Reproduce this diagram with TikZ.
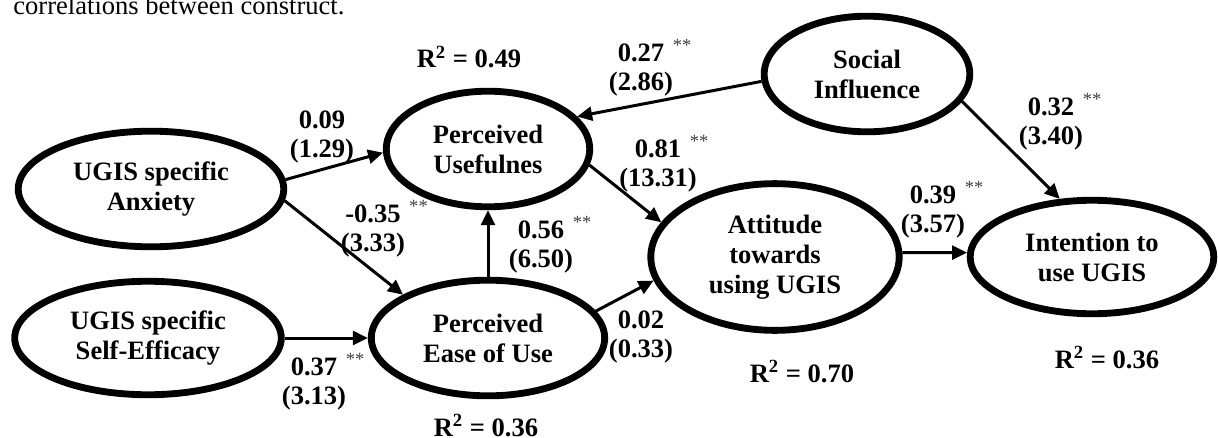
\documentclass[tikz,border=0pt]{standalone}
\usepackage{fontspec}
\setmainfont{Liberation Serif}
\usetikzlibrary{arrows.meta,shapes.geometric}

\newcommand\sigmark{\rlap{\smash{\hspace{4pt}\textsuperscript{\mdseries\color{black!75}**}}}}

\begin{document}
\begin{tikzpicture}[x=0.467pt,y=-0.467pt]
\tikzset{
  latent/.style={ellipse,draw=black,line width=3.2pt,align=center,inner sep=0pt,font=\bfseries\fontsize{12.4}{14}\selectfont},
  path/.style={draw=black,line width=1.4pt,-{Triangle[length=7pt,width=6.5pt]}},
  coef/.style={align=center,inner sep=0pt,font=\bfseries\fontsize{12.4}{14}\selectfont},
  rsq/.style={anchor=base,inner sep=0pt,font=\bfseries\fontsize{12.4}{14}\selectfont}
}
\useasboundingbox (0,0) rectangle (1218,438);
\node[anchor=base west,inner sep=0pt,font=\fontsize{12.4}{14}\selectfont] (caption) at (13,14) {correlations between construct.};
% constructs
\node[latent,minimum width=124pt,minimum height=54pt] (n_anx) at (151,189) {UGIS specific\\Anxiety};
\node[latent,minimum width=124.5pt,minimum height=53pt] (n_se) at (148,338) {UGIS specific\\Self-Efficacy};
\node[latent,minimum width=95pt,minimum height=54pt] (n_pu) at (488,149) {Perceived\\Usefulnes};
\node[latent,minimum width=109pt,minimum height=54pt] (n_peou) at (488,338) {Perceived\\Ease of Use};
\node[latent,minimum width=116pt,minimum height=68.5pt] (n_att) at (775,257) {Attitude\\towards\\using UGIS};
\node[latent,minimum width=113.8pt,minimum height=53pt] (n_int) at (1092,257) {Intention to\\use UGIS};
\node[latent,minimum width=96pt,minimum height=54pt] (n_si) at (867,74) {Social\\Influence};
% paths
\draw[path] (n_anx.4) -- (n_pu.182);
\draw[path] (n_anx.-5) -- (n_peou.153);
\draw[path] (n_se.east) -- (n_peou.west);
\draw[path] (n_peou.north) -- (n_pu.south);
\draw[path] (n_peou.14) -- (n_att.191);
\draw[path] (n_pu.-9) -- (n_att.163);
\draw[path] (n_si.184) -- (n_pu.20);
\draw[path] (n_si.-16) -- (n_int.119);
\draw[path] (n_att.2) -- (n_int.178);
% coefficients
\node[coef] (c_anx_pu) at (322,137) {0.09\\(1.29)};
\node[coef] (c_si_pu) at (641,70) {0.27\sigmark\\(2.86)};
\node[coef] (c_pu_att) at (658,166) {0.81\sigmark\\(13.31)};
\node[coef] (c_si_int) at (1051,124) {0.32\sigmark\\(3.40)};
\node[coef] (c_att_int) at (933,212) {0.39\sigmark\\(3.57)};
\node[coef] (c_anx_peou) at (373,231) {-0.35\sigmark\\(3.33)};
\node[coef] (c_peou_pu) at (541,247) {0.56\sigmark\\(6.50)};
\node[coef] (c_se_peou) at (314,384) {0.37\sigmark\\(3.13)};
\node[coef] (c_peou_att) at (641,337) {0.02\\(0.33)};
% explained variance
\node[rsq] (r_pu) at (469,68) {R\textsuperscript{2} = 0.49};
\node[rsq] (r_peou) at (486,436) {R\textsuperscript{2} = 0.36};
\node[rsq] (r_att) at (802,382) {R\textsuperscript{2} = 0.70};
\node[rsq] (r_int) at (1107,368) {R\textsuperscript{2} = 0.36};
\end{tikzpicture}
\end{document}
